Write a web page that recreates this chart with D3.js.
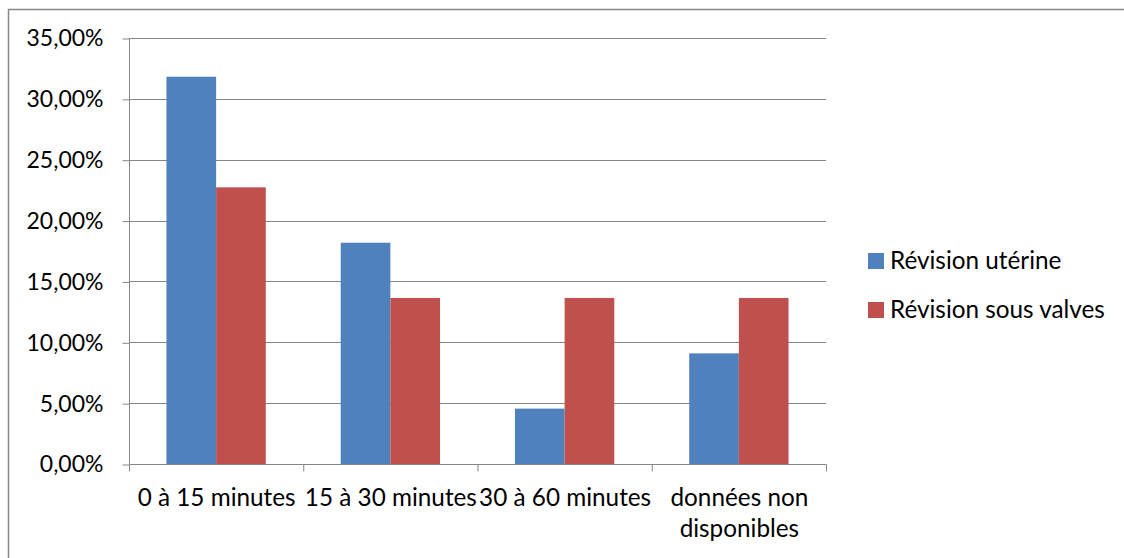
<!DOCTYPE html>
<html><head><meta charset="utf-8">
<script src="https://cdn.jsdelivr.net/npm/d3@7"></script>
<style>body{margin:0;background:#fff}svg{display:block}text{font-family:Lato, "Open Sans", sans-serif;fill:#000}</style>
</head><body><svg id="c" width="1124" height="558"></svg>
<script>
const categories = ["0 à 15 minutes", "15 à 30 minutes", "30 à 60 minutes", "données non disponibles"];
const seriesNames = ["Révision utérine", "Révision sous valves"];
const revisionUterine = [31.82, 18.18, 4.55, 9.09];
const revisionSousValves = [22.73, 13.64, 13.64, 13.64];
const yTicks = [0, 5, 10, 15, 20, 25, 30, 35];
const colors = ["#4F81BD", "#C0504D"];
const FS = 24.3;
const FSY = 23;

const svg = d3.select("#c");
svg.append("rect").attr("x", 8.5).attr("y", 9.5).attr("width", 1200).attr("height", 600)
  .attr("fill", "none").attr("stroke", "#888").attr("stroke-width", 1.5);

const L = 129, R = 826, T = 38, B = 464;
const y = d3.scaleLinear().domain([0, 35]).range([B, T]);
const x0 = d3.scaleBand().domain(categories).range([L, R]).paddingInner(0.43).paddingOuter(0.215);
const x1 = d3.scaleBand().domain(seriesNames).range([0, x0.bandwidth()]);
const xc = d3.scaleBand().domain(categories).range([L, R]);

// gridlines
svg.append("g").selectAll("line").data(yTicks.filter(d => d > 0)).join("line")
  .attr("x1", L).attr("x2", R).attr("y1", d => Math.round(y(d)) + 0.5).attr("y2", d => Math.round(y(d)) + 0.5)
  .attr("stroke", "#868686").attr("stroke-width", 1);

const data = categories.map((c, i) => ({c, vals: [revisionUterine[i], revisionSousValves[i]]}));
svg.append("g").selectAll("g").data(data).join("g")
  .attr("transform", d => `translate(${x0(d.c)},0)`)
  .selectAll("rect").data(d => d.vals.map((v, j) => ({v, s: seriesNames[j], j}))).join("rect")
  .attr("x", d => x1(d.s)).attr("width", x1.bandwidth())
  .attr("y", d => y(d.v)).attr("height", d => B - y(d.v))
  .attr("fill", d => colors[d.j]);

// y axis
const yAxis = d3.axisLeft(y).tickValues(yTicks).tickSize(7).tickPadding(19)
  .tickFormat(d => d3.format(".2f")(d).replace(".", ",") + "%");
const gy = svg.append("g").attr("transform", `translate(${L + 0.5},0.5)`).call(yAxis);
gy.selectAll("line,path").attr("stroke", "#868686");
gy.select(".domain").attr("d", `M0,${T}V${B}`);
gy.selectAll("text").attr("font-size", FSY).attr("font-family", "Lato, sans-serif").attr("fill", "#000");

// x axis
const gx = svg.append("g").attr("transform", `translate(0.5,${B + 0.5})`);
gx.append("line").attr("x1", L).attr("x2", R).attr("stroke", "#868686");
gx.selectAll(".tk").data(categories.concat(["end"])).join("line")
  .attr("x1", (d, i) => i < 4 ? xc(d) : R).attr("x2", (d, i) => i < 4 ? xc(d) : R)
  .attr("y1", 0).attr("y2", 7).attr("stroke", "#868686");
const lines = {"données non disponibles": ["données non", "disponibles"]};
const xt = gx.selectAll("text").data(categories).join("text")
  .attr("text-anchor", "middle").attr("font-size", FS)
  .attr("transform", d => `translate(${xc(d) + xc.bandwidth() / 2},${41})`);
xt.each(function(d) {
  const ls = lines[d] || [d];
  d3.select(this).selectAll("tspan").data(ls).join("tspan")
    .attr("x", 0).attr("dy", (t, i) => i === 0 ? 0 : 31).text(t => t);
});

// legend
const lg = svg.append("g").selectAll("g").data(seriesNames).join("g")
  .attr("transform", (d, i) => `translate(868,${253 + i * 49})`);
lg.append("rect").attr("width", 16).attr("height", 16).attr("fill", (d, i) => colors[i]);
lg.append("text").attr("x", 22).attr("y", 16).attr("font-size", FS).text(d => d);
</script></body></html>
